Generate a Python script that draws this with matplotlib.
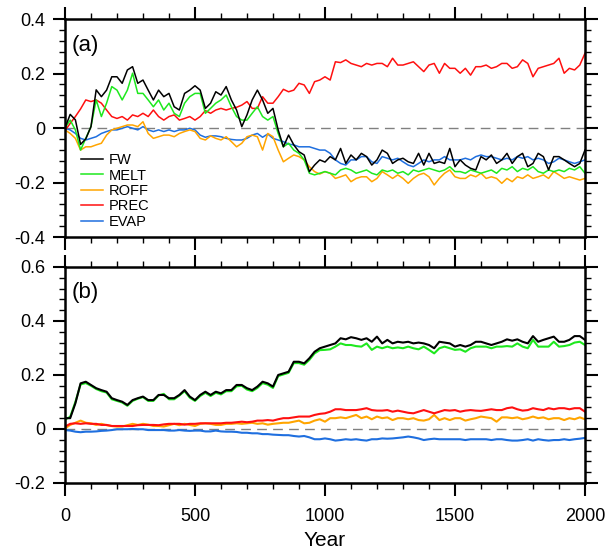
import matplotlib
matplotlib.use("Agg")
import matplotlib.pyplot as plt
from matplotlib.ticker import MultipleLocator

# sampled every 20 years, 0..2000
YEARS = list(range(0, 2001, 20))

# (a) annual anomalies
FW_A = [0.0, 0.05, 0.03, -0.06, -0.04, 0.005, 0.14, 0.115, 0.139, 0.188,
        0.188, 0.164, 0.213, 0.225, 0.164, 0.176, 0.139, 0.103, 0.139, 0.115,
        0.127, 0.078, 0.066, 0.127, 0.139, 0.155, 0.139, 0.072, 0.091, 0.133,
        0.121, 0.152, 0.103, 0.066, 0.005, 0.048, 0.103, 0.139, 0.103, 0.054,
        0.072, -0.007, -0.069, -0.026, -0.062, -0.087, -0.099, -0.160, -0.136, -0.117,
        -0.125, -0.105, -0.117, -0.075, -0.130, -0.099, -0.117, -0.093, -0.105, -0.136,
        -0.117, -0.081, -0.093, -0.130, -0.117, -0.111, -0.124, -0.130, -0.093, -0.136,
        -0.093, -0.130, -0.124, -0.130, -0.075, -0.142, -0.117, -0.136, -0.148, -0.154,
        -0.105, -0.117, -0.099, -0.130, -0.117, -0.093, -0.130, -0.105, -0.093, -0.142,
        -0.130, -0.093, -0.105, -0.154, -0.105, -0.105, -0.117, -0.130, -0.142, -0.130,
        -0.081]
MELT_A = [0.0, 0.029, -0.007, -0.081, -0.038, 0.005, 0.103, 0.042, 0.091, 0.152,
          0.139, 0.103, 0.139, 0.201, 0.127, 0.127, 0.103, 0.078, 0.103, 0.066,
          0.091, 0.054, 0.042, 0.091, 0.115, 0.127, 0.127, 0.054, 0.072, 0.091,
          0.103, 0.121, 0.078, 0.042, 0.029, 0.029, 0.054, 0.078, 0.042, 0.029,
          0.042, -0.020, -0.069, -0.056, -0.081, -0.093, -0.117, -0.166, -0.172, -0.166,
          -0.160, -0.166, -0.172, -0.154, -0.148, -0.154, -0.166, -0.160, -0.154, -0.166,
          -0.172, -0.154, -0.160, -0.154, -0.166, -0.160, -0.172, -0.154, -0.160, -0.154,
          -0.148, -0.154, -0.160, -0.154, -0.142, -0.160, -0.160, -0.166, -0.154, -0.160,
          -0.166, -0.160, -0.154, -0.166, -0.148, -0.154, -0.142, -0.160, -0.148, -0.154,
          -0.142, -0.160, -0.166, -0.154, -0.160, -0.154, -0.160, -0.148, -0.154, -0.142,
          -0.166]
ROFF_A = [-0.007, -0.020, -0.038, -0.081, -0.069, -0.069, -0.062, -0.056, -0.026, -0.007,
          -0.001, 0.005, 0.011, 0.011, 0.005, 0.023, -0.020, -0.038, -0.032, -0.026,
          -0.026, -0.032, -0.020, -0.013, -0.007, -0.013, -0.038, -0.044, -0.029, -0.038,
          -0.044, -0.032, -0.050, -0.069, -0.056, -0.032, -0.026, -0.032, -0.081, -0.020,
          -0.032, -0.081, -0.124, -0.111, -0.099, -0.105, -0.117, -0.142, -0.160, -0.169,
          -0.160, -0.166, -0.185, -0.179, -0.172, -0.197, -0.185, -0.179, -0.179, -0.197,
          -0.185, -0.160, -0.172, -0.185, -0.172, -0.185, -0.203, -0.185, -0.172, -0.166,
          -0.179, -0.209, -0.185, -0.166, -0.154, -0.179, -0.185, -0.185, -0.172, -0.179,
          -0.166, -0.185, -0.179, -0.185, -0.203, -0.185, -0.197, -0.179, -0.185, -0.172,
          -0.185, -0.179, -0.172, -0.185, -0.160, -0.172, -0.185, -0.179, -0.185, -0.191,
          -0.185]
PREC_A = [-0.010, 0.017, 0.042, 0.070, 0.103, 0.097, 0.103, 0.091, 0.066, 0.042,
          0.035, 0.042, 0.029, 0.048, 0.042, 0.054, 0.042, 0.066, 0.042, 0.029,
          0.042, 0.048, 0.029, 0.035, 0.042, 0.029, 0.042, 0.064, 0.054, 0.066,
          0.072, 0.066, 0.072, 0.076, 0.084, 0.097, 0.072, 0.072, 0.115, 0.091,
          0.091, 0.115, 0.142, 0.133, 0.139, 0.164, 0.158, 0.127, 0.170, 0.176,
          0.188, 0.176, 0.243, 0.240, 0.250, 0.237, 0.231, 0.225, 0.237, 0.231,
          0.237, 0.237, 0.225, 0.256, 0.231, 0.231, 0.237, 0.243, 0.225, 0.207,
          0.231, 0.237, 0.201, 0.237, 0.219, 0.219, 0.201, 0.219, 0.194, 0.225,
          0.225, 0.231, 0.219, 0.225, 0.237, 0.237, 0.219, 0.225, 0.250, 0.237,
          0.188, 0.219, 0.225, 0.231, 0.237, 0.256, 0.201, 0.219, 0.213, 0.231,
          0.274]
EVAP_A = [-0.001, -0.007, -0.020, -0.038, -0.044, -0.038, -0.032, -0.020, -0.013, -0.007,
          -0.007, -0.001, 0.005, -0.001, -0.007, 0.005, -0.007, -0.013, -0.007, -0.013,
          -0.007, -0.013, -0.007, -0.007, -0.001, -0.007, -0.026, -0.034, -0.029, -0.029,
          -0.032, -0.038, -0.042, -0.044, -0.044, -0.038, -0.026, -0.020, -0.034, -0.022,
          -0.038, -0.044, -0.050, -0.059, -0.062, -0.069, -0.069, -0.069, -0.075, -0.081,
          -0.081, -0.093, -0.117, -0.130, -0.136, -0.117, -0.117, -0.105, -0.105, -0.124,
          -0.130, -0.105, -0.111, -0.117, -0.111, -0.124, -0.136, -0.142, -0.130, -0.117,
          -0.124, -0.117, -0.117, -0.105, -0.117, -0.117, -0.117, -0.111, -0.117, -0.105,
          -0.099, -0.105, -0.105, -0.111, -0.117, -0.111, -0.117, -0.105, -0.111, -0.105,
          -0.117, -0.111, -0.117, -0.130, -0.124, -0.111, -0.117, -0.124, -0.130, -0.124,
          -0.117]

# (b) running anomalies
FW_B = [0.040, 0.040, 0.095, 0.169, 0.175, 0.163, 0.151, 0.144, 0.138, 0.114,
        0.107, 0.101, 0.089, 0.107, 0.114, 0.120, 0.107, 0.107, 0.126, 0.126,
        0.114, 0.114, 0.126, 0.144, 0.120, 0.107, 0.126, 0.138, 0.126, 0.138,
        0.132, 0.144, 0.144, 0.163, 0.163, 0.151, 0.144, 0.157, 0.175, 0.169,
        0.157, 0.200, 0.206, 0.212, 0.249, 0.249, 0.243, 0.262, 0.286, 0.299,
        0.305, 0.311, 0.317, 0.336, 0.332, 0.340, 0.336, 0.330, 0.336, 0.323,
        0.342, 0.317, 0.330, 0.317, 0.323, 0.320, 0.323, 0.317, 0.320, 0.317,
        0.311, 0.299, 0.323, 0.320, 0.317, 0.305, 0.311, 0.305, 0.311, 0.323,
        0.323, 0.317, 0.311, 0.317, 0.323, 0.332, 0.327, 0.332, 0.323, 0.317,
        0.344, 0.323, 0.330, 0.336, 0.342, 0.323, 0.323, 0.330, 0.344, 0.344,
        0.330]
MELT_B = [0.035, 0.045, 0.100, 0.165, 0.170, 0.160, 0.148, 0.140, 0.135, 0.110,
          0.104, 0.098, 0.086, 0.104, 0.112, 0.118, 0.104, 0.104, 0.124, 0.130,
          0.110, 0.110, 0.124, 0.140, 0.116, 0.104, 0.122, 0.134, 0.122, 0.134,
          0.128, 0.140, 0.140, 0.158, 0.160, 0.146, 0.140, 0.152, 0.170, 0.164,
          0.152, 0.196, 0.202, 0.208, 0.244, 0.244, 0.238, 0.256, 0.280, 0.292,
          0.293, 0.295, 0.305, 0.317, 0.311, 0.311, 0.307, 0.305, 0.317, 0.293,
          0.305, 0.299, 0.305, 0.299, 0.302, 0.299, 0.305, 0.299, 0.295, 0.305,
          0.293, 0.280, 0.299, 0.305, 0.299, 0.293, 0.295, 0.286, 0.299, 0.305,
          0.305, 0.305, 0.299, 0.305, 0.305, 0.307, 0.305, 0.317, 0.305, 0.299,
          0.330, 0.305, 0.305, 0.305, 0.323, 0.305, 0.307, 0.311, 0.320, 0.323,
          0.311]
ROFF_B = [0.002, 0.015, 0.023, 0.031, 0.023, 0.021, 0.015, 0.019, 0.014, 0.011,
          0.009, 0.009, 0.014, 0.019, 0.015, 0.019, 0.016, 0.011, 0.011, 0.009,
          0.014, 0.019, 0.014, 0.019, 0.015, 0.011, 0.019, 0.021, 0.019, 0.015,
          0.015, 0.019, 0.019, 0.021, 0.019, 0.021, 0.023, 0.019, 0.021, 0.016,
          0.019, 0.021, 0.023, 0.023, 0.027, 0.031, 0.021, 0.023, 0.031, 0.036,
          0.027, 0.040, 0.040, 0.043, 0.040, 0.046, 0.052, 0.040, 0.046, 0.036,
          0.046, 0.040, 0.043, 0.033, 0.040, 0.040, 0.036, 0.040, 0.033, 0.031,
          0.036, 0.052, 0.033, 0.040, 0.033, 0.040, 0.040, 0.031, 0.036, 0.040,
          0.046, 0.043, 0.040, 0.027, 0.043, 0.043, 0.040, 0.043, 0.036, 0.040,
          0.046, 0.040, 0.043, 0.036, 0.040, 0.040, 0.033, 0.040, 0.036, 0.043,
          0.036]
PREC_B = [0.009, 0.019, 0.021, 0.019, 0.021, 0.019, 0.019, 0.015, 0.015, 0.011,
          0.011, 0.011, 0.011, 0.011, 0.014, 0.015, 0.015, 0.015, 0.014, 0.017,
          0.019, 0.019, 0.019, 0.016, 0.019, 0.019, 0.021, 0.021, 0.021, 0.021,
          0.021, 0.023, 0.023, 0.025, 0.027, 0.025, 0.027, 0.031, 0.031, 0.033,
          0.031, 0.036, 0.040, 0.040, 0.043, 0.046, 0.046, 0.046, 0.052, 0.056,
          0.058, 0.064, 0.073, 0.073, 0.070, 0.070, 0.070, 0.073, 0.077, 0.070,
          0.068, 0.068, 0.070, 0.064, 0.068, 0.064, 0.060, 0.058, 0.064, 0.070,
          0.064, 0.058, 0.064, 0.070, 0.068, 0.070, 0.064, 0.068, 0.070, 0.068,
          0.067, 0.070, 0.073, 0.070, 0.070, 0.077, 0.080, 0.073, 0.068, 0.070,
          0.077, 0.073, 0.070, 0.077, 0.073, 0.077, 0.077, 0.073, 0.077, 0.077,
          0.064]
EVAP_B = [-0.004, -0.006, -0.010, -0.012, -0.010, -0.010, -0.009, -0.007, -0.006, -0.004,
          -0.001, -0.001, -0.001, 0.0, -0.001, -0.001, -0.004, -0.004, -0.004, -0.004,
          -0.006, -0.006, -0.004, -0.006, -0.007, -0.006, -0.006, -0.009, -0.009, -0.006,
          -0.009, -0.010, -0.010, -0.011, -0.014, -0.014, -0.016, -0.016, -0.019, -0.019,
          -0.021, -0.022, -0.023, -0.023, -0.026, -0.028, -0.026, -0.031, -0.038, -0.038,
          -0.035, -0.038, -0.043, -0.041, -0.038, -0.040, -0.038, -0.041, -0.043, -0.038,
          -0.038, -0.035, -0.036, -0.035, -0.033, -0.031, -0.028, -0.031, -0.035, -0.041,
          -0.038, -0.036, -0.038, -0.038, -0.038, -0.038, -0.038, -0.041, -0.038, -0.038,
          -0.038, -0.038, -0.041, -0.038, -0.038, -0.041, -0.043, -0.043, -0.041, -0.038,
          -0.043, -0.038, -0.041, -0.043, -0.041, -0.041, -0.038, -0.041, -0.038, -0.036,
          -0.033]

NAMES = ["FW", "MELT", "ROFF", "PREC", "EVAP"]
COLORS = {"FW": "black", "MELT": "#1ee81e", "ROFF": "#ffa500",
          "PREC": "#ff1010", "EVAP": "#1f6fdf"}


def styleAxis(ax, ylim):
    ax.set_xlim(0, 2000)
    ax.set_ylim(*ylim)
    ax.xaxis.set_major_locator(MultipleLocator(500))
    ax.xaxis.set_minor_locator(MultipleLocator(100))
    ax.yaxis.set_major_locator(MultipleLocator(0.2))
    ax.yaxis.set_minor_locator(MultipleLocator(0.04))
    ax.tick_params(which="both", direction="out", top=True, right=True, labelsize=13)
    ax.tick_params(which="major", length=9, width=1.5, pad=5)
    ax.tick_params(axis="x", which="major", pad=9)
    ax.tick_params(which="minor", length=4.5, width=1.0)
    for side in ax.spines.values():
        side.set_linewidth(1.8)
    # NCL-style labels: plain hyphen minus, bare "0"
    ax.yaxis.set_major_formatter(plt.FuncFormatter(lambda v, p: "0" if abs(v) < 1e-9 else f"{v:.1f}"))
    ax.axhline(0, color="#808080", lw=1.0, dashes=(7, 4.5), zorder=1)


def drawPanel(ax, series, lw):
    for name in ["EVAP", "ROFF", "PREC", "MELT", "FW"]:
        ax.plot(YEARS, series[name], color=COLORS[name], lw=lw, label=name, zorder=2)


def main():
    plt.rcParams["font.family"] = ["Liberation Sans", "DejaVu Sans"]
    fig = plt.figure(figsize=(6.05, 5.54), dpi=100)
    axA = fig.add_axes([0.1074, 0.5722, 0.8595, 0.3935])
    axB = fig.add_axes([0.1074, 0.1282, 0.8595, 0.3899])

    drawPanel(axA, {"FW": FW_A, "MELT": MELT_A, "ROFF": ROFF_A, "PREC": PREC_A, "EVAP": EVAP_A}, 1.1)
    drawPanel(axB, {"FW": FW_B, "MELT": MELT_B, "ROFF": ROFF_B, "PREC": PREC_B, "EVAP": EVAP_B}, 1.5)

    styleAxis(axA, (-0.4, 0.4))
    styleAxis(axB, (-0.2, 0.6))
    axA.tick_params(labelbottom=False)
    axB.set_xlabel("Year", fontsize=15, labelpad=4)

    axA.text(0.013, 0.88, "(a)", transform=axA.transAxes, fontsize=16, va="center", ha="left")
    axB.text(0.013, 0.88, "(b)", transform=axB.transAxes, fontsize=16, va="center", ha="left")

    handles, labels = axA.get_legend_handles_labels()
    order = [labels.index(n) for n in NAMES]
    axA.legend([handles[i] for i in order], NAMES, loc="upper left",
               bbox_to_anchor=(0.03, 0.385), frameon=False, fontsize=10.5,
               handlelength=1.55, handletextpad=0.4, labelspacing=0.1,
               borderpad=0, borderaxespad=0)

    fig.savefig("out.png", dpi=100)


if __name__ == "__main__":
    main()
